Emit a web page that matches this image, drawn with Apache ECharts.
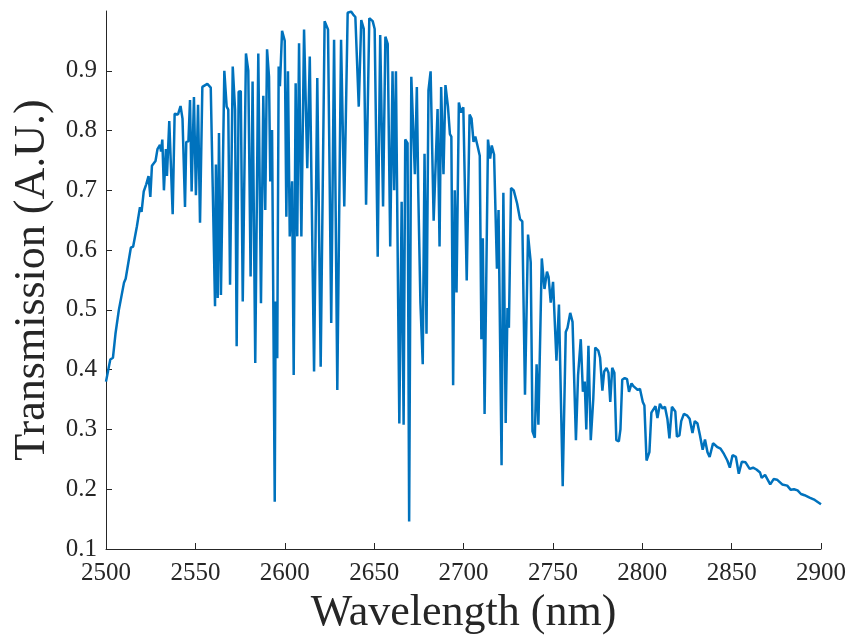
<!DOCTYPE html>
<html><head><meta charset="utf-8">
<script src="https://cdn.jsdelivr.net/npm/echarts@6/dist/echarts.min.js"></script>
<style>html,body{margin:0;padding:0;background:#fff}#c{width:848px;height:635px}</style>
</head><body><div id="c"></div>
<script>
const wavelength = [
2500.0,2502.4,2503.9,2505.3,2506.2,2507.2,2510.1,2511.0,2513.9,2515.2,2517.3,2518.2,2519.0,2519.9,2521.1,2522.5,2523.8,2524.8,2525.7,2527.7,
2528.8,2530.2,2530.8,2531.5,2532.4,2533.5,2534.1,2535.4,2537.3,2538.4,2540.3,2541.7,2542.8,2544.2,2544.9,2546.1,2547.0,2547.9,2549.2,2550.3,
2551.5,2552.6,2553.9,2556.7,2558.6,2559.7,2561.0,2561.5,2562.5,2563.2,2564.3,2566.2,2567.5,2568.4,2569.4,2570.9,2572.2,2573.1,2574.2,2575.4,
2576.5,2578.3,2579.6,2580.9,2582.0,2583.5,2585.2,2586.7,2588.0,2589.1,2590.1,2591.2,2591.9,2592.9,2594.4,2594.9,2595.8,2596.6,2597.3,2598.5,
2600.0,2600.9,2601.8,2602.8,2604.1,2605.0,2606.1,2607.0,2608.0,2609.3,2610.8,2612.6,2614.0,2616.4,2618.2,2620.1,2622.3,2624.2,2626.0,2627.6,
2629.4,2631.5,2633.3,2635.2,2637.1,2638.3,2639.5,2641.4,2642.8,2644.2,2645.5,2647.3,2649.2,2650.3,2652.0,2653.4,2655.0,2656.3,2657.6,2659.0,
2660.3,2661.2,2662.2,2664.1,2665.4,2666.5,2667.4,2668.7,2669.6,2670.8,2672.8,2673.9,2674.7,2675.9,2677.2,2678.2,2679.3,2680.4,2681.6,2683.3,
2685.5,2686.6,2687.5,2688.8,2689.9,2691.3,2692.4,2693.2,2694.2,2695.1,2696.1,2697.4,2698.6,2699.9,2701.8,2703.4,2704.5,2705.6,2706.6,2707.8,
2709.1,2710.0,2710.8,2711.8,2713.7,2714.9,2715.8,2717.1,2718.7,2719.6,2721.3,2722.3,2723.6,2724.6,2725.4,2726.6,2728.1,2730.0,2731.6,2732.9,
2734.4,2736.1,2737.6,2738.6,2739.9,2740.9,2741.9,2743.8,2745.3,2746.7,2747.6,2748.8,2750.1,2752.0,2753.4,2755.5,2757.2,2758.2,2759.7,2761.0,
2762.9,2764.1,2765.6,2766.8,2767.8,2768.7,2769.9,2771.2,2772.6,2773.7,2775.4,2776.4,2777.7,2778.7,2780.0,2781.1,2782.1,2783.2,2784.4,2785.5,
2786.9,2787.8,2788.8,2790.2,2791.5,2792.6,2794.0,2795.2,2796.2,2797.5,2798.7,2800.3,2801.2,2802.4,2803.4,2804.0,2805.1,2806.1,2807.4,2808.5,
2809.9,2811.4,2812.7,2814.1,2815.2,2816.6,2817.7,2818.5,2819.4,2820.8,2821.8,2823.3,2825.2,2826.5,2828.1,2829.4,2830.9,2832.3,2833.8,2835.1,
2836.5,2837.7,2839.6,2841.8,2843.8,2845.7,2847.6,2849.0,2850.5,2852.4,2854.0,2855.7,2857.8,2860.1,2862.0,2863.9,2865.9,2866.8,2868.7,2871.6,
2873.5,2875.4,2878.3,2881.1,2883.1,2884.9,2886.9,2888.8,2890.8,2893.6,2896.5,2900.0
];
const transmission = [
0.380,0.417,0.420,0.460,0.463,0.500,0.546,0.552,0.604,0.606,0.640,0.642,0.672,0.664,0.698,0.710,0.724,0.689,0.741,0.749,
0.769,0.776,0.765,0.785,0.700,0.769,0.724,0.816,0.660,0.828,0.827,0.841,0.820,0.672,0.781,0.782,0.851,0.698,0.856,0.692,
0.843,0.646,0.873,0.878,0.872,0.706,0.506,0.743,0.520,0.796,0.525,0.900,0.840,0.835,0.542,0.907,0.835,0.439,0.865,0.866,
0.514,0.929,0.900,0.556,0.882,0.411,0.929,0.511,0.858,0.667,0.936,0.890,0.715,0.801,0.179,0.514,0.419,0.907,0.874,0.967,
0.950,0.656,0.899,0.623,0.715,0.391,0.879,0.623,0.946,0.623,0.969,0.737,0.924,0.397,0.888,0.405,0.983,0.969,0.478,0.952,
0.366,0.952,0.673,0.997,0.999,0.994,0.990,0.840,0.985,0.970,0.676,0.988,0.983,0.970,0.589,0.960,0.673,0.957,0.945,0.606,
0.899,0.700,0.899,0.310,0.681,0.308,0.785,0.779,0.146,0.890,0.727,0.873,0.696,0.512,0.409,0.761,0.460,0.867,0.899,0.649,
0.836,0.606,0.873,0.727,0.876,0.840,0.794,0.790,0.374,0.700,0.529,0.847,0.830,0.839,0.549,0.827,0.820,0.781,0.790,0.775,
0.758,0.451,0.620,0.326,0.785,0.753,0.775,0.760,0.569,0.667,0.240,0.696,0.311,0.503,0.470,0.704,0.700,0.678,0.652,0.648,
0.358,0.626,0.580,0.297,0.286,0.409,0.308,0.586,0.535,0.564,0.555,0.512,0.547,0.415,0.509,0.205,0.463,0.470,0.495,0.480,
0.282,0.391,0.451,0.363,0.380,0.300,0.440,0.282,0.351,0.437,0.432,0.420,0.365,0.397,0.403,0.395,0.346,0.403,0.395,0.282,
0.280,0.300,0.383,0.386,0.384,0.363,0.377,0.372,0.374,0.366,0.368,0.346,0.340,0.248,0.250,0.262,0.328,0.331,0.339,0.319,
0.343,0.335,0.338,0.317,0.285,0.338,0.336,0.330,0.288,0.290,0.314,0.326,0.323,0.318,0.294,0.314,0.310,0.290,0.266,0.283,
0.262,0.254,0.277,0.271,0.268,0.259,0.248,0.236,0.257,0.254,0.226,0.246,0.245,0.234,0.236,0.233,0.228,0.219,0.224,0.208,
0.217,0.216,0.208,0.206,0.199,0.200,0.198,0.192,0.190,0.186,0.182,0.175
];
const xTicks = [2500,2550,2600,2650,2700,2750,2800,2850,2900];
const yTicks = [0.1,0.2,0.3,0.4,0.5,0.6,0.7,0.8,0.9];

const font = "'Liberation Serif', 'DejaVu Serif', serif";
const axisColor = '#262626';
const chart = echarts.init(document.getElementById('c'), null, {renderer: 'canvas'});
chart.setOption({
  animation: false,
  backgroundColor: '#ffffff',
  grid: {left: 106, right: 27, top: 11, bottom: 86, containLabel: false, outerBoundsMode: 'none'},
  xAxis: {
    type: 'value', min: 2500, max: 2900, interval: 50,
    name: 'Wavelength (nm)', nameLocation: 'middle', nameGap: 42,
    nameTextStyle: {fontFamily: font, fontSize: 44, color: axisColor},
    axisLine: {show: true, onZero: false, lineStyle: {color: axisColor, width: 1}},
    axisTick: {show: true, inside: true, length: 6, customValues: xTicks, lineStyle: {color: axisColor, width: 1}},
    axisLabel: {customValues: xTicks, fontFamily: font, fontSize: 25, color: axisColor, margin: 12, formatter: v => String(v)},
    splitLine: {show: false}
  },
  yAxis: {
    type: 'value', min: 0.1, max: 1.0, interval: 0.1,
    name: 'Transmission (A.U.)', nameLocation: 'middle', nameGap: 52, nameRotate: 90,
    nameTextStyle: {fontFamily: font, fontSize: 44, color: axisColor},
    axisLine: {show: true, onZero: false, lineStyle: {color: axisColor, width: 1}},
    axisTick: {show: true, inside: true, length: 6, customValues: yTicks, lineStyle: {color: axisColor, width: 1}},
    axisLabel: {customValues: yTicks, fontFamily: font, fontSize: 25, color: axisColor, margin: 9, formatter: v => v.toFixed(1)},
    splitLine: {show: false}
  },
  series: [{
    type: 'line',
    data: wavelength.map((w, i) => [w, transmission[i]]),
    showSymbol: false,
    lineStyle: {color: '#0072BD', width: 2.5},
    clip: true
  }]
});
</script>
</body></html>
